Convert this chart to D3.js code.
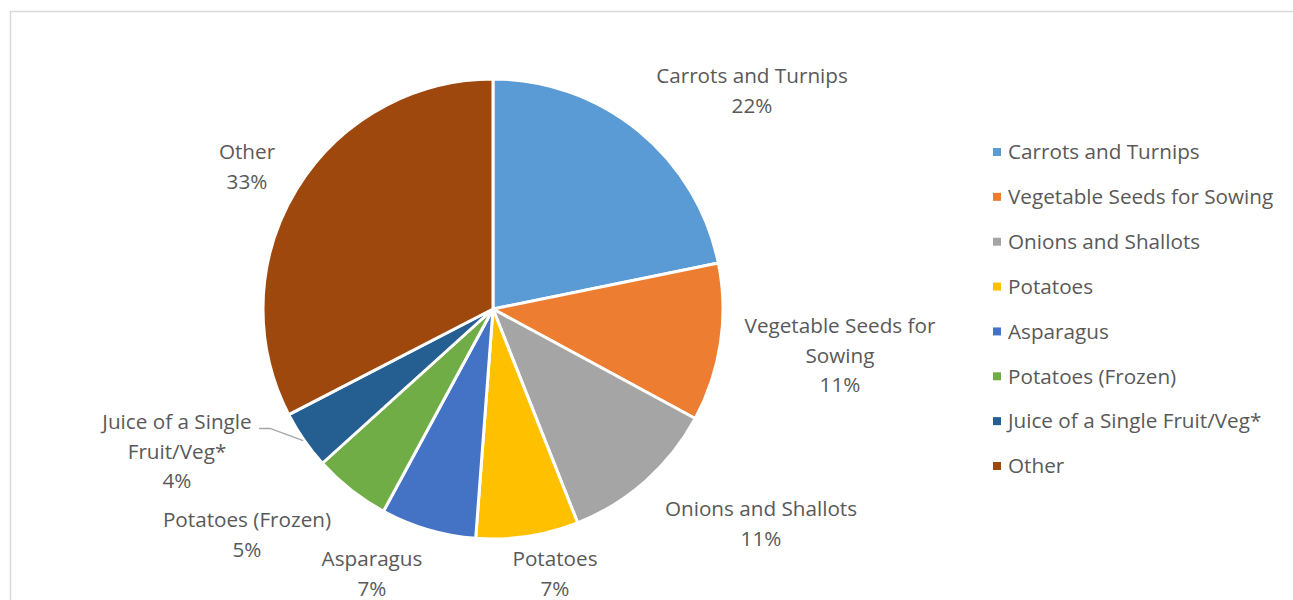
<!DOCTYPE html>
<html>
<head>
<meta charset="utf-8">
<script src="https://cdn.jsdelivr.net/npm/d3@7"></script>
<style>
  html, body { margin: 0; padding: 0; background: #fff; }
  svg text { font-family: "Open Sans", "Noto Sans", sans-serif; fill: #595959; }
</style>
</head>
<body>
<svg id="chart" width="1293" height="600"></svg>
<script>
// Datos del gráfico (porcentajes)
const categorias = [
  "Carrots and Turnips",
  "Vegetable Seeds for Sowing",
  "Onions and Shallots",
  "Potatoes",
  "Asparagus",
  "Potatoes (Frozen)",
  "Juice of a Single Fruit/Veg*",
  "Other"
];
const valores = [21.8, 11.1, 11.1, 7.2, 6.7, 5.4, 4.1, 32.6];
const etiquetasPct = ["22%", "11%", "11%", "7%", "7%", "5%", "4%", "33%"];
// Lineas de texto de las etiquetas de datos (como en Excel)
const etiquetasLineas = [
  ["Carrots and Turnips"],
  ["Vegetable Seeds for", "Sowing"],
  ["Onions and Shallots"],
  ["Potatoes"],
  ["Asparagus"],
  ["Potatoes (Frozen)"],
  ["Juice of a Single", "Fruit/Veg*"],
  ["Other"]
];
const colores = ["#5B9BD5", "#ED7D31", "#A5A5A5", "#FFC000", "#4472C4", "#70AD47", "#255E91", "#9E480E"];

// Posición (centro de la primera línea) de cada etiqueta
const posEtiquetas = [
  [752, 76], [840, 326], [761, 509], [555, 559],
  [372, 559], [247, 520], [177, 422], [247, 152]
];

const svg = d3.select("#chart");
const cx = 493, cy = 309, radio = 230;
const lineH = 29.5;
const fontSize = 20.7;

// Marco del área del gráfico
svg.append("rect")
  .attr("x", 10.5).attr("y", 11.5)
  .attr("width", 1300).attr("height", 600)
  .attr("fill", "none")
  .attr("stroke", "#d9d9d9")
  .attr("stroke-width", 1.5);

const pie = d3.pie().sort(null).value((d) => d);
const arcos = pie(valores);
const arc = d3.arc().innerRadius(0).outerRadius(radio);

const g = svg.append("g").attr("transform", `translate(${cx},${cy})`);

g.selectAll("path")
  .data(arcos)
  .enter()
  .append("path")
  .attr("d", arc)
  .attr("fill", (d, i) => colores[i])
  .attr("stroke", "#fff")
  .attr("stroke-width", 3)
  .attr("stroke-linejoin", "round");

// Línea guía para "Juice of a Single Fruit/Veg*"
const aJuice = (arcos[6].startAngle + arcos[6].endAngle) / 2;
const px = Math.sin(aJuice) * (radio + 1) + cx;
const py = -Math.cos(aJuice) * (radio + 1) + cy;
svg.append("polyline")
  .attr("points", `259,428.5 270,428.5 ${px},${py}`)
  .attr("fill", "none")
  .attr("stroke", "#a6a6a6")
  .attr("stroke-width", 1.3);

// Etiquetas de datos
etiquetasLineas.forEach((lineas, i) => {
  const [x, y] = posEtiquetas[i];
  const t = svg.append("text")
    .attr("text-anchor", "middle")
    .style("font-size", fontSize + "px");
  lineas.concat([etiquetasPct[i]]).forEach((ln, k) => {
    t.append("tspan")
      .attr("x", x)
      .attr("y", y + k * lineH)
      .attr("dy", "0.35em")
      .text(ln);
  });
});

// Leyenda
const leyenda = svg.append("g");
const filaY = d3.scalePoint().domain(categorias).range([152, 466]);
categorias.forEach((c, i) => {
  const y = filaY(c);
  leyenda.append("rect")
    .attr("x", 993).attr("y", y - 4)
    .attr("width", 8).attr("height", 8)
    .attr("fill", colores[i]);
  leyenda.append("text")
    .attr("x", 1008).attr("y", y)
    .attr("dy", "0.35em")
    .style("font-size", fontSize + "px")
    .text(c);
});
</script>
</body>
</html>
